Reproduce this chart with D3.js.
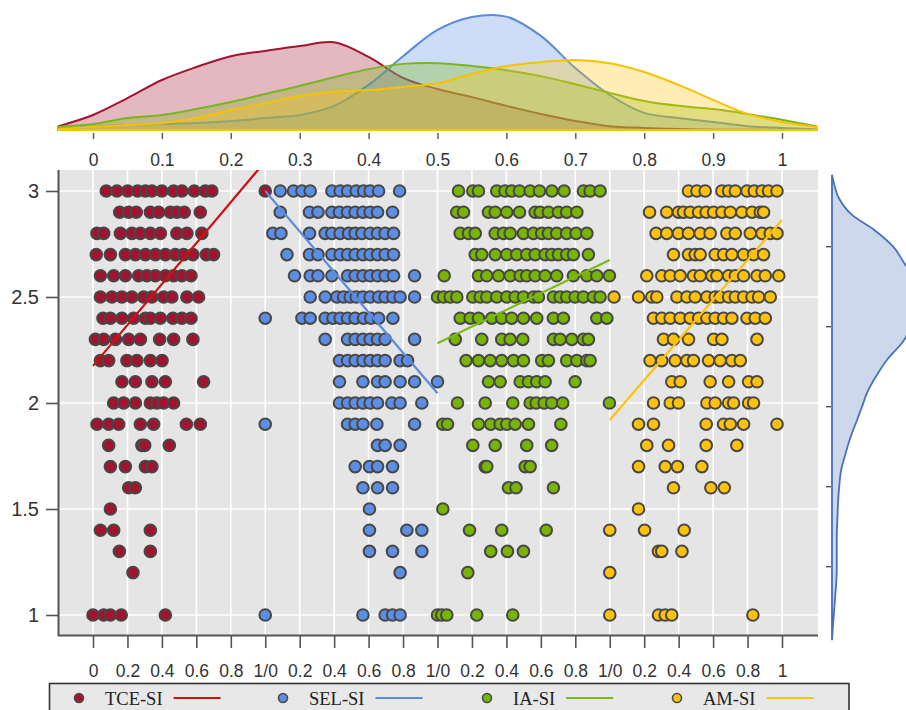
<!DOCTYPE html>
<html><head><meta charset="utf-8">
<script src="https://cdn.jsdelivr.net/npm/d3@7"></script>
<style>body{margin:0;background:#fff}svg{display:block}</style>
</head><body><svg id="c" width="906" height="710"></svg>
<script>
// ---------------- DATA ----------------
const seriesNames = ["TCE-SI", "SEL-SI", "IA-SI", "AM-SI"];

// each row: [y level, [x values in 0..1]]
const tceRows = [
  [3.0, [0.077,0.139,0.201,0.259,0.304,0.342,0.400,0.468,0.516,0.588,0.652,0.69,1.0]],
  [2.9, [0.155,0.207,0.251,0.333,0.381,0.449,0.487,0.530,0.623]],
  [2.8, [0.023,0.062,0.159,0.226,0.275,0.333,0.391,0.487,0.545,0.632]],
  [2.7, [0.019,0.101,0.188,0.246,0.304,0.362,0.420,0.478,0.526,0.580,0.658,0.70]],
  [2.6, [0.043,0.12,0.188,0.265,0.313,0.362,0.42,0.468,0.516,0.569]],
  [2.5, [0.043,0.11,0.168,0.226,0.294,0.342,0.41,0.458,0.545,0.613]],
  [2.4, [0.058,0.101,0.168,0.236,0.304,0.333,0.391,0.464,0.516,0.569]],
  [2.3, [0.014,0.062,0.13,0.207,0.275,0.387,0.468,0.58]],
  [2.2, [0.043,0.091,0.197,0.255,0.333,0.401]],
  [2.1, [0.168,0.246,0.342,0.42,0.642]],
  [2.0, [0.12,0.178,0.246,0.333,0.371,0.41,0.468]],
  [1.9, [0.023,0.091,0.149,0.275,0.352,0.542,0.623]],
  [1.8, [0.091,0.284,0.30,0.443]],
  [1.7, [0.101,0.188,0.304,0.342]],
  [1.6, [0.207,0.246]],
  [1.5, [0.101]],
  [1.4, [0.043,0.12,0.333]],
  [1.3, [0.153,0.333]],
  [1.2, [0.232]],
  [1.0, [0,0.062,0.101,0.164,0.42]]
];
const selRows = [
  [3.0, [0.087,0.164,0.213,0.261,0.387,0.435,0.478,0.528,0.571,0.609,0.658,0.78]],
  [2.9, [0.087,0.257,0.306,0.387,0.431,0.478,0.522,0.567,0.609,0.652,0.739]],
  [2.8, [0.044,0.091,0.257,0.348,0.387,0.435,0.484,0.522,0.561,0.609,0.652,0.696,0.745]],
  [2.7, [0.126,0.257,0.306,0.387,0.435,0.478,0.522,0.567,0.609,0.652,0.696,0.745]],
  [2.6, [0.17,0.261,0.306,0.387,0.478,0.522,0.567,0.609,0.652,0.696,0.745,0.867]],
  [2.5, [0.261,0.348,0.416,0.455,0.493,0.528,0.567,0.609,0.658,0.696,0.741,0.783,0.867]],
  [2.4, [0,0.213,0.261,0.348,0.393,0.435,0.478,0.522,0.571,0.613,0.658,0.741]],
  [2.3, [0.348,0.478,0.522,0.567,0.609,0.652,0.696,0.867]],
  [2.2, [0.431,0.478,0.522,0.567,0.609,0.652,0.696,0.783,0.826]],
  [2.1, [0.431,0.567,0.652,0.696,0.783,0.867,1.0]],
  [2.0, [0.431,0.478,0.522,0.567,0.609,0.652,0.735,0.783,0.909]],
  [1.9, [0,0.478,0.522,0.567,0.648,0.867]],
  [1.8, [0.652,0.696,0.783]],
  [1.7, [0.522,0.605,0.652,0.739]],
  [1.6, [0.567,0.652,0.739]],
  [1.5, [0.605]],
  [1.4, [0.605,0.822,0.909]],
  [1.3, [0.605,0.739,0.909]],
  [1.2, [0.783]],
  [1.0, [0,0.567,0.696,0.739,0.783]]
];
const iaRows = [
  [3.0, [0.122,0.205,0.238,0.344,0.392,0.431,0.476,0.538,0.592,0.664,0.735,0.847,0.886,0.944]],
  [2.9, [0.112,0.151,0.296,0.335,0.402,0.476,0.567,0.596,0.644,0.702,0.75,0.809]],
  [2.8, [0.132,0.18,0.219,0.335,0.383,0.422,0.499,0.557,0.605,0.644,0.692,0.75,0.805,0.867]],
  [2.7, [0.219,0.257,0.335,0.402,0.46,0.518,0.567,0.625,0.663,0.702,0.75,0.789,0.876]],
  [2.6, [0.039,0.238,0.286,0.354,0.422,0.48,0.518,0.567,0.625,0.692,0.789,0.867,0.925,0.998]],
  [2.5, [0,0.035,0.074,0.112,0.205,0.248,0.286,0.344,0.402,0.451,0.499,0.557,0.586,0.673,0.712,0.75,0.799,0.847,0.905,0.944]],
  [2.4, [0.132,0.19,0.238,0.315,0.373,0.431,0.499,0.576,0.673,0.731,0.925,0.983]],
  [2.3, [0.103,0.257,0.373,0.422,0.495,0.673,0.712,0.78,0.847,0.876]],
  [2.2, [0.166,0.238,0.306,0.373,0.441,0.499,0.605,0.644,0.75,0.809,0.867,0.886]],
  [2.1, [0.296,0.364,0.48,0.528,0.576,0.625,0.799]],
  [2.0, [0.116,0.277,0.437,0.538,0.573,0.619,0.663,0.727,0.998]],
  [1.9, [0.031,0.058,0.238,0.309,0.364,0.402,0.451,0.528,0.716]],
  [1.8, [0.205,0.335,0.518,0.663]],
  [1.7, [0.277,0.286,0.509,0.538]],
  [1.6, [0.412,0.456,0.673]],
  [1.5, [0.031]],
  [1.4, [0.186,0.373,0.631]],
  [1.3, [0.309,0.406,0.499]],
  [1.2, [0.176]],
  [1.0, [0,0.025,0.054,0.228,0.437]]
];
const amRows = [
  [3.0, [0.457,0.506,0.554,0.651,0.69,0.729,0.797,0.839,0.884,0.922,0.971]],
  [2.9, [0.231,0.331,0.399,0.428,0.467,0.516,0.56,0.603,0.651,0.70,0.767,0.826,0.874,0.893]],
  [2.8, [0.269,0.331,0.399,0.457,0.525,0.583,0.68,0.729,0.816,0.884,0.932,0.971]],
  [2.7, [0.37,0.457,0.496,0.525,0.612,0.661,0.709,0.777,0.835,0.893]],
  [2.6, [0.215,0.302,0.351,0.409,0.486,0.525,0.593,0.622,0.69,0.729,0.777,0.855,0.903,0.981]],
  [2.5, [0.025,0.167,0.244,0.273,0.39,0.448,0.496,0.564,0.612,0.641,0.69,0.729,0.777,0.826,0.864,0.932]],
  [2.4, [0.254,0.302,0.351,0.409,0.467,0.516,0.564,0.612,0.661,0.709,0.797,0.845,0.903]],
  [2.3, [0.312,0.37,0.457,0.603,0.651,0.855]],
  [2.2, [0.234,0.302,0.38,0.448,0.486,0.574,0.641,0.709,0.758]],
  [2.1, [0.36,0.409,0.583,0.69,0.806,0.855]],
  [2.0, [0.254,0.351,0.399,0.564,0.612,0.69,0.719,0.806,0.835]],
  [1.9, [0.167,0.254,0.56,0.661,0.70,0.777,0.971]],
  [1.8, [0.215,0.341,0.56,0.738]],
  [1.7, [0.167,0.322,0.393,0.535]],
  [1.6, [0.37,0.587,0.665]],
  [1.5, [0.167]],
  [1.4, [0,0.202,0.432]],
  [1.3, [0.283,0.302,0.419]],
  [1.2, [0]],
  [1.0, [0,0.283,0.322,0.36,0.831]]
];

// fitted regression lines: y at x=0 and at x=1
const tceFit = [2.175, 3.14];
const selFit = [3.0, 2.046];
const iaFit  = [2.282, 2.675];
const amFit  = [1.92, 2.863];

// top marginal densities (x distribution)
const topDensX = [-0.05,0,0.05,0.1,0.15,0.2,0.25,0.3,0.35,0.4,0.45,0.5,0.55,0.6,0.65,0.7,0.75,0.8,0.85,0.9,0.95,1.0,1.05];
const tceDens = [0.11,0.43,0.91,1.43,1.8,2.11,2.26,2.4,2.51,2.09,1.49,1.17,0.94,0.69,0.46,0.26,0.11,0.06,0.03,0.01,0.01,0,0];
const selDens = [0.03,0.1,0.14,0.17,0.2,0.26,0.34,0.43,0.69,1.29,2.11,2.86,3.23,3.24,2.69,1.77,1.0,0.49,0.34,0.23,0.11,0.06,0.02];
const iaDens  = [0.09,0.17,0.34,0.43,0.6,0.8,1.03,1.26,1.51,1.74,1.89,1.91,1.83,1.71,1.54,1.31,1.06,0.83,0.69,0.6,0.46,0.29,0.11];
const amDens  = [0.03,0.09,0.14,0.2,0.34,0.57,0.77,0.97,1.09,1.14,1.23,1.34,1.6,1.83,1.94,2.0,1.91,1.66,1.29,0.86,0.46,0.23,0.09];

// right marginal density (y distribution)
const rightDensY = [0.54,0.6,0.7,0.8,0.9,1.0,1.1,1.2,1.3,1.4,1.5,1.6,1.7,1.8,1.9,2.0,2.1,2.2,2.3,2.4,2.5,2.6,2.7,2.8,2.9,3.0,3.1,3.2,3.3,3.4,3.45];
const rightDens  = [0,0.01,0.03,0.05,0.07,0.08,0.08,0.08,0.09,0.1,0.12,0.15,0.22,0.3,0.4,0.5,0.6,0.75,0.93,1.17,1.33,1.45,1.47,1.37,1.2,1.02,0.72,0.33,0.12,0.03,0];

// ticks
const yTicks = [1, 1.5, 2, 2.5, 3];
const yTickLabels = ["1", "1.5", "2", "2.5", "3"];
const topTicks = [0,0.1,0.2,0.3,0.4,0.5,0.6,0.7,0.8,0.9,1];
const topTickLabels = ["0","0.1","0.2","0.3","0.4","0.5","0.6","0.7","0.8","0.9","1"];
const bottomTicks = [0,0.2,0.4,0.6,0.8,1,1.2,1.4,1.6,1.8,2,2.2,2.4,2.6,2.8,3,3.2,3.4,3.6,3.8,4];
const bottomTickLabels = ["0","0.2","0.4","0.6","0.8","1/0","0.2","0.4","0.6","0.8","1/0","0.2","0.4","0.6","0.8","1/0","0.2","0.4","0.6","0.8","1"];
const rightTicks = [1, 1.5, 2, 2.5, 3];

// styles
const pointColors = ["#a3132f", "#5b8ee4", "#78b500", "#ffc20a"];
const lineColors  = ["#cc1111", "#5b8be0", "#7abb12", "#ffc20a"];
const densStroke  = ["#a1152f", "#5b8bd8", "#7ab51d", "#f7c300"];
const FONT = "'Liberation Sans', Arial, sans-serif";

// ---------------- DRAW ----------------
const svg = d3.select("#c");
const P = {l: 58, r: 818, t: 170, b: 636};
const x = d3.scaleLinear().domain([0, 4]).range([93, 782]);
const y = d3.scaleLinear().domain([1, 3]).range([615, 191]);

svg.append("rect").attr("x", P.l).attr("y", P.t).attr("width", P.r - P.l).attr("height", P.b - P.t).attr("fill", "#e5e5e5");
svg.append("clipPath").attr("id", "clipP").append("rect")
  .attr("x", P.l).attr("y", P.t).attr("width", P.r - P.l).attr("height", P.b - P.t);

const grid = svg.append("g");
grid.selectAll(".gx").data(bottomTicks).join("line")
  .attr("x1", d => x(d)).attr("x2", d => x(d)).attr("y1", P.t).attr("y2", P.b)
  .attr("stroke", "#fff").attr("stroke-width", 1.6);
grid.selectAll(".gy").data(yTicks).join("line")
  .attr("y1", d => y(d)).attr("y2", d => y(d)).attr("x1", P.l).attr("x2", P.r)
  .attr("stroke", "#fff").attr("stroke-width", 1.6);

const allRows = [tceRows, selRows, iaRows, amRows];
const fits = [tceFit, selFit, iaFit, amFit];
const plot = svg.append("g").attr("clip-path", "url(#clipP)");
allRows.forEach((rows, g) => {
  const pts = [];
  rows.forEach(([yy, xs]) => xs.forEach(xx => pts.push({x: g + xx, y: yy})));
  plot.append("g").selectAll("circle").data(pts).join("circle")
    .attr("cx", d => x(d.x)).attr("cy", d => y(d.y)).attr("r", 5.8)
    .attr("fill", pointColors[g]).attr("stroke", "#474747").attr("stroke-width", 2);
});
fits.forEach((f, g) => {
  plot.append("line")
    .attr("x1", x(g)).attr("y1", y(f[0])).attr("x2", x(g + 1)).attr("y2", y(f[1]))
    .attr("stroke", lineColors[g]).attr("stroke-width", 2.2);
});

const axisColor = "#555";
svg.append("line").attr("x1", P.l + 0.5).attr("x2", P.l + 0.5).attr("y1", P.t).attr("y2", P.b)
  .attr("stroke", axisColor).attr("stroke-width", 2);
svg.append("line").attr("x1", P.l).attr("x2", P.r).attr("y1", P.b - 0.5).attr("y2", P.b - 0.5)
  .attr("stroke", axisColor).attr("stroke-width", 2);

const ya = svg.append("g").attr("transform", `translate(${P.l},0)`)
  .call(d3.axisLeft(y).tickValues(yTicks).tickSize(12).tickPadding(7).tickFormat((d, i) => yTickLabels[i]));
ya.select(".domain").remove();
ya.selectAll("line").attr("stroke", axisColor).attr("stroke-width", 1.6);
ya.selectAll("text").attr("font-family", FONT).attr("font-size", 20).attr("fill", "#333");

const xa = svg.append("g").attr("transform", `translate(0,${P.b})`)
  .call(d3.axisBottom(x).tickValues(bottomTicks).tickSize(12).tickPadding(17).tickFormat((d, i) => bottomTickLabels[i]));
xa.select(".domain").remove();
xa.selectAll("line").attr("stroke", axisColor).attr("stroke-width", 1.6);
xa.selectAll("text").attr("font-family", FONT).attr("font-size", 17.5).attr("fill", "#333");

// top marginal
const xTop = d3.scaleLinear().domain([0, 1]).range([93, 782]);
const yTop = d3.scaleLinear().domain([0, 3.43]).range([130, 10]);
const topArea = d3.area().x(d => xTop(d.x)).y0(yTop(0)).y1(d => yTop(Math.max(0, d.v))).curve(d3.curveCatmullRom.alpha(0.5));
[tceDens, selDens, iaDens, amDens].forEach((dens, g) => {
  const data = topDensX.map((xx, i) => ({x: xx, v: dens[i]}));
  svg.append("path").datum(data).attr("d", topArea)
    .attr("fill", pointColors[g]).attr("fill-opacity", 0.3)
    .attr("stroke", densStroke[g]).attr("stroke-width", 2).attr("stroke-linejoin", "round");
});
const ta = svg.append("g").attr("transform", "translate(0,133)")
  .call(d3.axisBottom(xTop).tickValues(topTicks).tickSize(6).tickPadding(15).tickFormat((d, i) => topTickLabels[i]));
ta.select(".domain").remove();
ta.selectAll("line").attr("stroke", axisColor).attr("stroke-width", 1.4);
ta.selectAll("text").attr("font-family", FONT).attr("font-size", 17.5).attr("fill", "#333");

// right marginal
const yR = d3.scaleLinear().domain([1, 3]).range([566.7, 246.7]);
const xR = d3.scaleLinear().domain([0, 1]).range([832, 892]);
const rArea = d3.area().y(d => yR(d.y)).x0(xR(0)).x1(d => xR(d.v)).curve(d3.curveMonotoneY);
const rData = rightDensY.map((yy, i) => ({y: yy, v: rightDens[i]}));
svg.append("path").datum(rData).attr("d", rArea)
  .attr("fill", "#5a7fc4").attr("fill-opacity", 0.3)
  .attr("stroke", "#4a6fbf").attr("stroke-width", 1.8);
svg.append("g").selectAll("line").data(rightTicks).join("line")
  .attr("x1", 826).attr("x2", 831).attr("y1", d => yR(d)).attr("y2", d => yR(d))
  .attr("stroke", axisColor).attr("stroke-width", 1.4);

// legend
const lg = svg.append("g");
lg.append("rect").attr("x", 49.5).attr("y", 683.5).attr("width", 799.5).attr("height", 40)
  .attr("fill", "#e8e8e8").attr("stroke", "#333").attr("stroke-width", 1.6);
const legX = [79, 283, 487, 677];
seriesNames.forEach((name, g) => {
  const x0 = legX[g];
  lg.append("circle").attr("cx", x0).attr("cy", 698).attr("r", 4.5)
    .attr("fill", pointColors[g]).attr("stroke", "#4a4a4a").attr("stroke-width", 1.6);
  const t = lg.append("text").attr("x", x0 + 26).attr("y", 705)
    .attr("font-family", "'Liberation Serif', 'Times New Roman', serif").attr("font-size", 18.5)
    .attr("fill", "#222").text(name);
  const tw = t.node().getComputedTextLength();
  lg.append("line").attr("x1", x0 + 26 + tw + 11).attr("x2", x0 + 26 + tw + 58)
    .attr("y1", 698).attr("y2", 698).attr("stroke", lineColors[g]).attr("stroke-width", 2.2);
});
</script>
</body></html>
